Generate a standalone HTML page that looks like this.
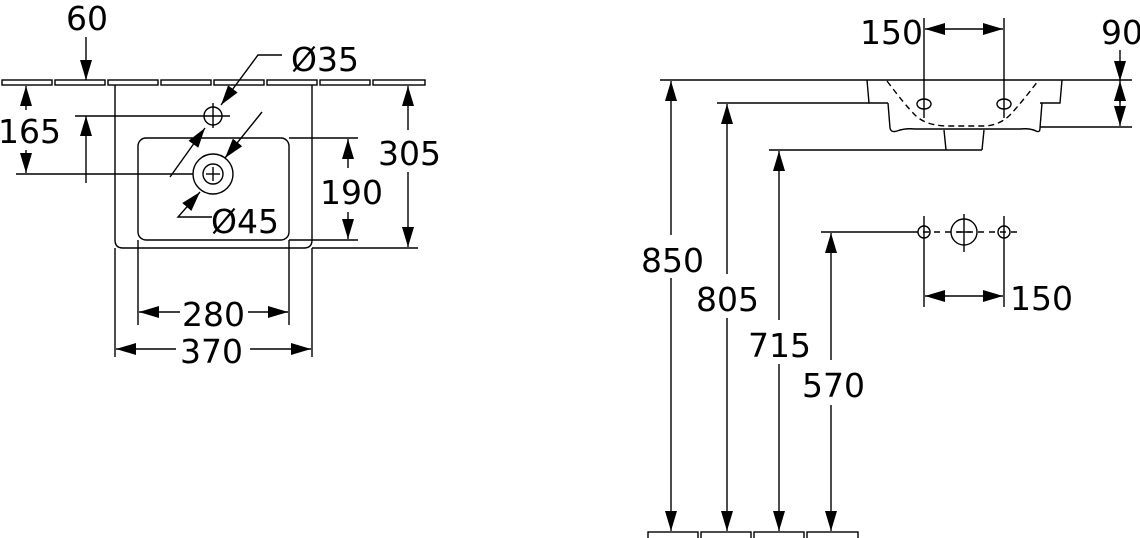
<!DOCTYPE html>
<html><head><meta charset="utf-8"><style>
html,body{margin:0;padding:0;background:#fff}
svg{display:block}
text{font-family:"DejaVu Sans","Liberation Sans",sans-serif;font-size:33px;fill:#000}
</style></head><body>
<svg width="1140" height="538" viewBox="0 0 1140 538" xmlns="http://www.w3.org/2000/svg">
<defs>
<marker id="a" viewBox="0 0 20 12" refX="20" refY="6" markerWidth="20" markerHeight="12" markerUnits="userSpaceOnUse" orient="auto-start-reverse">
<path d="M0,0 L20,6 L0,12 Z" fill="#000"/></marker>
</defs>
<g stroke="#000" stroke-width="1.4" fill="none">
<rect x="2" y="80" width="50" height="5"/><rect x="55" y="80" width="50" height="5"/><rect x="108" y="80" width="50" height="5"/><rect x="161" y="80" width="50" height="5"/><rect x="214" y="80" width="50" height="5"/><rect x="267" y="80" width="50" height="5"/><rect x="320" y="80" width="50" height="5"/><rect x="373" y="80" width="52" height="5"/>
<path d="M115,85 V240 Q115,248 123,248 H304 Q312,248 312,240 V85"/>
<line x1="115" y1="248" x2="115" y2="357"/><line x1="312" y1="248" x2="312" y2="357"/>
<rect x="138" y="138" width="151" height="102" rx="8"/>
<line x1="138" y1="240" x2="138" y2="325"/><line x1="289" y1="240" x2="289" y2="325"/>
<circle cx="213" cy="116" r="9"/>
<line x1="204" y1="116" x2="230" y2="116"/><line x1="213" y1="103" x2="213" y2="128"/>
<circle cx="213" cy="174" r="20"/><circle cx="213" cy="174" r="10"/>
<line x1="206" y1="174" x2="220" y2="174"/><line x1="213" y1="167" x2="213" y2="181"/>
<line x1="75" y1="116" x2="204" y2="116"/>
<line x1="16" y1="174" x2="193" y2="174"/>
<line x1="312" y1="248" x2="418" y2="248"/>
<line x1="289" y1="138" x2="358" y2="138"/><line x1="289" y1="240" x2="358" y2="240"/>
<line x1="86" y1="37" x2="86" y2="80" marker-end="url(#a)"/>
<line x1="86" y1="183" x2="86" y2="116" marker-end="url(#a)"/>
<line x1="26" y1="110" x2="26" y2="86" marker-end="url(#a)"/>
<line x1="26" y1="150" x2="26" y2="173" marker-end="url(#a)"/>
<line x1="408" y1="130" x2="408" y2="86" marker-end="url(#a)"/>
<line x1="408" y1="172" x2="408" y2="247" marker-end="url(#a)"/>
<line x1="348" y1="168" x2="348" y2="139" marker-end="url(#a)"/>
<line x1="348" y1="212" x2="348" y2="239" marker-end="url(#a)"/>
<polyline points="282,55 258,55 221,105" marker-end="url(#a)"/>
<line x1="170" y1="177" x2="205" y2="128" marker-end="url(#a)"/>
<line x1="262" y1="112" x2="225" y2="158" marker-end="url(#a)"/>
<polyline points="212,217 178,217 200,192" marker-end="url(#a)"/>
<line x1="180" y1="312" x2="139" y2="312" marker-end="url(#a)"/>
<line x1="248" y1="312" x2="288" y2="312" marker-end="url(#a)"/>
<line x1="176" y1="349" x2="116" y2="349" marker-end="url(#a)"/>
<line x1="250" y1="349" x2="311" y2="349" marker-end="url(#a)"/>

<line x1="660" y1="80" x2="1132" y2="80"/>
<line x1="717" y1="103" x2="869" y2="103"/>
<line x1="769" y1="150" x2="982" y2="150"/>
<line x1="1040" y1="127" x2="1132" y2="127"/>
<path d="M867,80 L869,103 L888,103 M1062,80 L1060,103 L1040,103"/>
<path d="M888,103 L890,128 Q891,133 897,131 Q905,128 915,129 L1020,129 Q1030,128 1036,131 Q1040,133 1040,128 L1042,103"/>
<path d="M944,130 L946,150 M984,130 L982,150"/>
<path d="M887,81 Q905,105 915,115 Q925,125 945,126 L985,126 Q1000,125 1010,115 Q1022,102 1038,81" stroke-dasharray="6,4"/>
<ellipse cx="924" cy="104" rx="7" ry="5"/><ellipse cx="1004" cy="104" rx="7" ry="5"/>
<line x1="924" y1="18" x2="924" y2="118"/><line x1="1004" y1="18" x2="1004" y2="118"/>
<line x1="964" y1="29" x2="925" y2="29" marker-end="url(#a)"/>
<line x1="964" y1="29" x2="1003" y2="29" marker-end="url(#a)"/>
<line x1="1120" y1="50" x2="1120" y2="81" marker-end="url(#a)"/>
<line x1="1120" y1="103" x2="1120" y2="81" marker-end="url(#a)"/>
<line x1="1120" y1="100" x2="1120" y2="126" marker-end="url(#a)"/>
<line x1="671" y1="235" x2="671" y2="81" marker-end="url(#a)"/>
<line x1="671" y1="278" x2="671" y2="531" marker-end="url(#a)"/>
<line x1="727" y1="274" x2="727" y2="104" marker-end="url(#a)"/>
<line x1="727" y1="318" x2="727" y2="531" marker-end="url(#a)"/>
<line x1="779" y1="320" x2="779" y2="151" marker-end="url(#a)"/>
<line x1="779" y1="364" x2="779" y2="531" marker-end="url(#a)"/>
<line x1="831" y1="360" x2="831" y2="233" marker-end="url(#a)"/>
<line x1="831" y1="405" x2="831" y2="531" marker-end="url(#a)"/>
<rect x="648" y="532" width="50" height="8"/><rect x="701" y="532" width="50" height="8"/><rect x="754" y="532" width="50" height="8"/><rect x="807" y="532" width="51" height="8"/>
<line x1="821" y1="232" x2="912" y2="232"/>
<line x1="912" y1="232" x2="1020" y2="232" stroke-dasharray="6,5"/>
<circle cx="924" cy="232" r="6"/><circle cx="964" cy="232" r="13"/><circle cx="1004" cy="232" r="6"/>
<line x1="924" y1="216" x2="924" y2="307"/><line x1="1004" y1="216" x2="1004" y2="307"/>
<line x1="964" y1="214" x2="964" y2="252"/><line x1="957" y1="232" x2="971" y2="232"/>
<line x1="964" y1="296" x2="925" y2="296" marker-end="url(#a)"/>
<line x1="964" y1="296" x2="1003" y2="296" marker-end="url(#a)"/>
</g>
<text x="66" y="30">60</text>
<text x="-2" y="143">165</text>
<text x="378" y="165">305</text>
<text x="320" y="204">190</text>
<text x="291" y="71">Ø35</text>
<text x="211" y="233">Ø45</text>
<text x="182" y="326">280</text>
<text x="180" y="363">370</text>
<text x="860" y="44">150</text>
<text x="1101" y="44">90</text>
<text x="641" y="272">850</text>
<text x="696" y="311">805</text>
<text x="748" y="357">715</text>
<text x="802" y="397">570</text>
<text x="1010" y="310">150</text>
</svg>
</body></html>
